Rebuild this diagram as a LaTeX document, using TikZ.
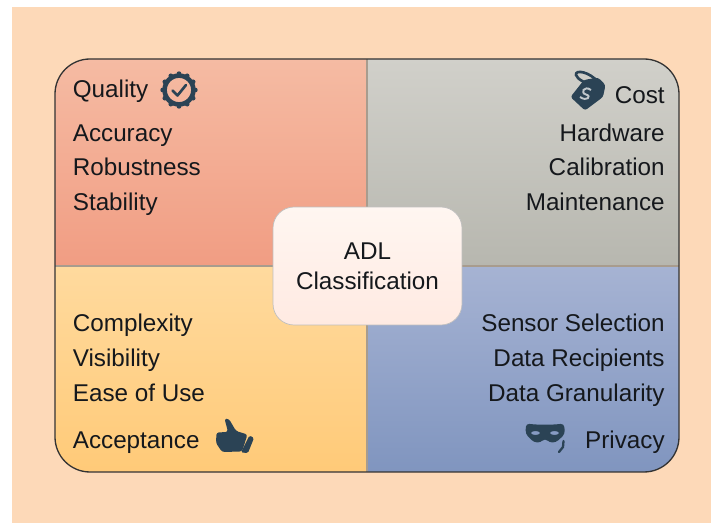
\documentclass[tikz,border=0pt]{standalone}
\usepackage{fontspec}
\setmainfont{Liberation Sans}
\usepackage{tikz}
\definecolor{peach}{HTML}{FDD9B8}
\definecolor{icondark}{HTML}{2B4355}
\definecolor{textdark}{HTML}{15181C}
\definecolor{boxtop}{HTML}{FFF6F1}
\definecolor{boxbottom}{HTML}{FFEAE2}
\definecolor{seam}{HTML}{A89C8E}
\def\panelarea{[rounded corners=0.7cm] (55,59) rectangle (679,472)}
\def\qualityarea{(55,59) rectangle (367,266)}
\def\costarea{(367,59) rectangle (679,266)}
\def\acceptancearea{(55,266) rectangle (367,472)}
\def\privacyarea{(367,266) rectangle (679,472)}
\tikzset{
	panellabel/.style={text=textdark,font=\fontsize{13.8}{16}\selectfont,inner sep=0pt},
	leftlabel/.style={panellabel,anchor=base west},
	rightlabel/.style={panellabel,anchor=base east},
	centrebox/.style={rounded corners=0.42cm,draw=black!25,line width=0.4pt,top color=boxtop,bottom color=boxbottom,minimum width=3.78cm,minimum height=2.36cm,inner sep=0pt,align=center,text=textdark,font=\fontsize{13.8}{17}\selectfont}
}

\begin{document}
\begin{tikzpicture}[x=0.02cm,y=-0.02cm]
					\useasboundingbox (0,0) rectangle (711,523);
					\fill [peach] (12,7) rectangle (711,523);
					
					%the four shaded parts of the panel
					\begin{scope}
						\clip \panelarea;
						\shade [top color={rgb,255:red,245;green,187;blue,163},bottom color={rgb,255:red,241;green,157;blue,131}] \qualityarea;
						\shade [top color={rgb,255:red,209;green,208;blue,202},bottom color={rgb,255:red,183;green,183;blue,175}] \costarea;
						\shade [top color={rgb,255:red,255;green,218;blue,158},bottom color={rgb,255:red,255;green,202;blue,120}] \acceptancearea;
						\shade [top color={rgb,255:red,166;green,179;blue,211},bottom color={rgb,255:red,128;green,149;blue,191}] \privacyarea;
						\draw [seam,line width=0.6pt] (55,266) -- (679,266);
						\draw [seam,line width=0.6pt] (367,59) -- (367,472);
					\end{scope}
					
					%drawing outline of the panel
					\draw [black!80,line width=0.75pt] \panelarea;
					
					\node [centrebox] (adl) at (367.5,266) {ADL\\Classification};
					
					\node [leftlabel] (quality) at (72.5,98) {Quality};
					\node [leftlabel] (accuracy) at (72.5,142) {Accuracy};
					\node [leftlabel] (robustness) at (72.5,176) {Robustness};
					\node [leftlabel] (stability) at (72.5,211) {Stability};
					
					\node [rightlabel] (cost) at (665,104) {Cost};
					\node [rightlabel] (hardware) at (665,142) {Hardware};
					\node [rightlabel] (calibration) at (665,176) {Calibration};
					\node [rightlabel] (maintenance) at (665,211) {Maintenance};
					
					\node [leftlabel] (complexity) at (72.5,332) {Complexity};
					\node [leftlabel] (visibility) at (72.5,367) {Visibility};
					\node [leftlabel] (easeofuse) at (72.5,402) {Ease of Use};
					\node [leftlabel] (acceptance) at (72.5,449) {Acceptance};
					
					\node [rightlabel] (sensor) at (665,332) {Sensor Selection};
					\node [rightlabel] (recipients) at (665,367) {Data Recipients};
					\node [rightlabel] (granularity) at (665,402) {Data Granularity};
					\node [rightlabel] (privacy) at (665,449) {Privacy};
					
					%quality badge
					\draw [icondark,line width=2.6pt] (179,90) circle (14.4*0.02cm);
					\foreach \a in {0,30,...,330}
						\fill [icondark] (179,90) ++(\a:16.3) circle (2.4*0.02cm);
					\draw [icondark,line width=1.5pt,line cap=round,line join=round] (172.5,90.5) -- (177.5,95.5) -- (186,85);
					
					%cost tag
					\fill [icondark,rounded corners=0.05cm] (570.5,97) -- (584,80) -- (598,77.5) -- (605.5,85) -- (603,97) -- (585,110.5) -- cycle;
					\draw [icondark,line width=1.5pt] (598,82) .. controls (590,72) and (575,69) .. (576,75) .. controls (577,79) and (586,84) .. (594,85);
					\draw [white!70!icondark,line width=1.1pt] (591,90) .. controls (584,85) and (580,93) .. (586,94.5) .. controls (592,96) and (587,102) .. (580,97);
					
					%acceptance thumb
					\fill [icondark,rounded corners=0.05cm] (224.5,418.5) -- (229,419) -- (236,431) -- (247.5,434.5) -- (242,451.5) -- (222,452) -- (216,443) -- (216.5,432.5) -- (228,432) -- cycle;
					\fill [icondark,rounded corners=0.03cm] (249.5,435.5) -- (254,438) -- (248,453) -- (241,452.5) -- cycle;
					
					%privacy mask
					\fill [icondark,even odd rule,rounded corners=0.07cm] (526,423.5) .. controls (538,425) and (552,425) .. (564,423.5) -- (565,434) -- (556,442.5) -- (549,442.5) -- (545,438) -- (541,442.5) -- (534,442.5) -- (525.5,434) -- cycle
						(535.5,433) ellipse (4.5*0.02cm and 2*0.02cm)
						(554.5,433) ellipse (4.5*0.02cm and 2*0.02cm);
					\draw [icondark,line width=1.3pt,line cap=round] (563.5,441) -- (563,447) -- (559,452);
				\end{tikzpicture}
\end{document}
